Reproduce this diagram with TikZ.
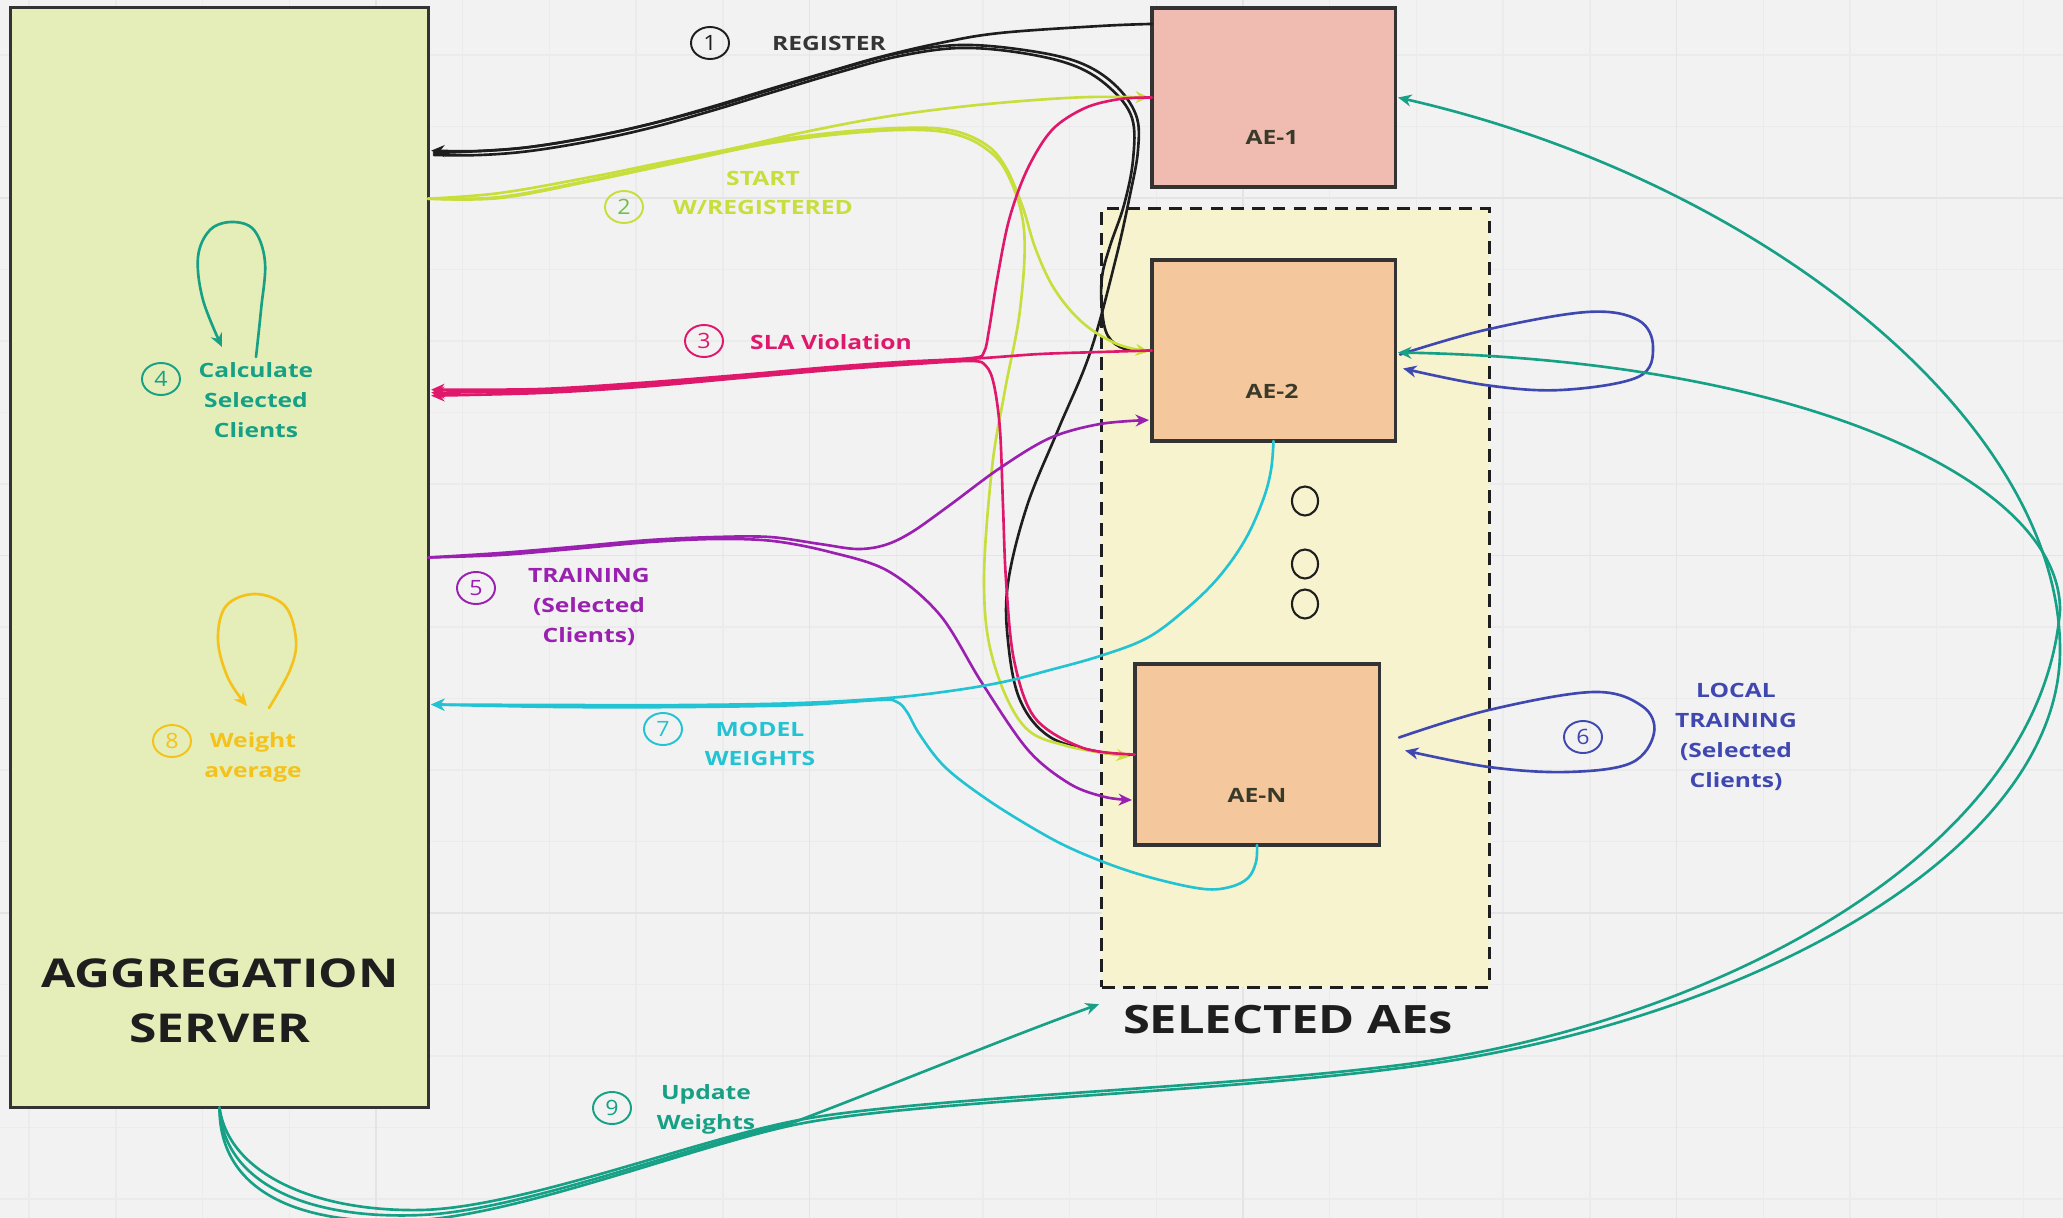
\documentclass[tikz,border=0pt]{standalone}
\usepackage{fontspec}
\setmainfont{Open Sans}[FakeStretch=1.25]
\newfontfamily\numfont{Open Sans}[FakeStretch=1.1]
\usetikzlibrary{arrows.meta,shapes.geometric,calc}

\definecolor{bg}{HTML}{F2F2F2}
\definecolor{gridminor}{HTML}{EBEBEB}
\definecolor{gridmajor}{HTML}{E4E4E4}
\definecolor{boxline}{HTML}{333333}
\definecolor{srvfill}{HTML}{E5EDB8}
\definecolor{ae1fill}{HTML}{F0BCB2}
\definecolor{aefill}{HTML}{F4C89C}
\definecolor{grpfill}{HTML}{F7F3CF}
\definecolor{inkblack}{HTML}{1E1E1E}
\definecolor{lime}{HTML}{C8DE3C}
\definecolor{limenum}{HTML}{6CC04A}
\definecolor{crimson}{HTML}{E0186C}
\definecolor{teal}{HTML}{16A085}
\definecolor{purple}{HTML}{9A20B0}
\definecolor{indigo}{HTML}{3F48B0}
\definecolor{cyanw}{HTML}{22C3D2}
\definecolor{amber}{HTML}{F4C21A}
\definecolor{aetext}{HTML}{3A3A2A}

\begin{document}
\begin{tikzpicture}[x=0.01cm,y=-0.01cm,
  box/.style={draw=boxline, line width=0.9pt, inner sep=0pt, outer sep=0pt},
  conn/.style={line width=0.75pt, line cap=round, line join=round},
  tip/.style={-{Stealth[length=3.8pt,width=3.4pt]}},
  numc/.style={ellipse, draw, line width=0.55pt, minimum width=0.38cm,
    minimum height=0.32cm, inner sep=0pt, font=\numfont\fontsize{6}{7}\selectfont},
  lbl/.style={font=\bfseries\fontsize{5.6}{8.5}\selectfont, align=center, inner sep=0pt},
  aelbl/.style={font=\bfseries\fontsize{5.6}{7}\selectfont, text=aetext, inner sep=0pt},
  dot/.style={ellipse, draw=inkblack, line width=0.6pt, minimum width=0.26cm,
    minimum height=0.29cm, inner sep=0pt}
]
% canvas and board grid
\useasboundingbox (0,0) rectangle (2063,1218);
\fill[bg] (0,0) rectangle (2063,1218);
\foreach \gx in {29.2,115.9,...,2063}
  \draw[gridminor, line width=0.4pt] (\gx,0) -- (\gx,1218);
\foreach \gy in {55,126.5,...,1218}
  \draw[gridminor, line width=0.4pt] (0,\gy) -- (2063,\gy);
\foreach \gx in {376,809.5,1243,1676.5}
  \draw[gridmajor, line width=0.5pt] (\gx,0) -- (\gx,1218);
\foreach \gy in {198,555.5,913}
  \draw[gridmajor, line width=0.5pt] (0,\gy) -- (2063,\gy);

% boxes
\node[box, fill=srvfill, minimum width=4.17cm, minimum height=10.99cm] (server) at (219.5,557.5) {};
\node[box, fill=grpfill, draw=inkblack, dashed, dash pattern=on 3.6pt off 2.3pt,
  minimum width=3.87cm, minimum height=7.78cm] (group) at (1295.5,598) {};
\node[box, fill=ae1fill, minimum width=2.43cm, minimum height=1.79cm] (ae1) at (1273.5,97.5) {};
\node[box, fill=aefill, minimum width=2.43cm, minimum height=1.81cm] (ae2) at (1273.5,350.5) {};
\node[box, fill=aefill, minimum width=2.44cm, minimum height=1.81cm] (aeN) at (1257,754.5) {};

\node[aelbl] (ae1lbl) at (1272,137) {AE-1};
\node[aelbl] (ae2lbl) at (1272,391) {AE-2};
\node[aelbl] (aeNlbl) at (1257,795) {AE-N};
\node[dot] (dotA) at (1305,501) {};
\node[dot] (dotB) at (1305,564) {};
\node[dot] (dotC) at (1305,604) {};

\node[font=\bfseries\fontsize{11.3}{15.6}\selectfont, align=center, text=inkblack, inner sep=0pt]
  (srvlbl) at (220,1001) {AGGREGATION\\SERVER};
\node[font=\bfseries\fontsize{11.1}{13}\selectfont, text=inkblack, inner sep=0pt]
  (grplbl) at (1288,1020) {SELECTED AEs};

% connector end points on the box borders
\coordinate (sReg)   at ($(server.north east)+(3,143)$);
\coordinate (sStart) at ($(server.north east)+(0,191)$);
\coordinate (sSLAa)  at ($(server.north east)+(3,382)$);
\coordinate (sSLAb)  at ($(server.north east)+(3,385)$);
\coordinate (sSLAc)  at ($(server.north east)+(3,388)$);
\coordinate (sTrain) at (server.east);
\coordinate (sModel) at ($(server.east)+(3,147)$);
\coordinate (sUpd)   at (server.south);
\coordinate (a1Reg)  at ($(ae1.north west)+(0,16)$);
\coordinate (a1In)   at ($(ae1.west)+(-3,0)$);
\coordinate (a1Back) at ($(ae1.east)+(3,0)$);
\coordinate (a2In)   at ($(ae2.west)+(-3,1)$);
\coordinate (a2Train) at ($(ae2.south west)+(-3,-21)$);
\coordinate (a2Back) at ($(ae2.east)+(3,2)$);
\coordinate (a2LoopS) at ($(ae2.east)+(5,4)$);
\coordinate (a2LoopE) at ($(ae2.east)+(8,18)$);
\coordinate (aNIn)   at ($(aeN.west)+(-5,2)$);
\coordinate (aNTrain) at ($(aeN.south west)+(-3,-45)$);
\coordinate (aNLoopS) at ($(aeN.east)+(20,-17)$);
\coordinate (aNLoopE) at ($(aeN.east)+(26,-4)$);
\coordinate (gIn)    at ($(group.south west)+(-3,17)$);
\coordinate (calcS) at (256,357);
\coordinate (calcE) at (222,347);
\coordinate (avgS) at (269,708);
\coordinate (avgE) at (247,706);

% (1) register
\draw[conn, inkblack] plot[smooth, tension=0.6] coordinates {(ae2.west) (1125,349) (1108,336) (1102,310)
  (1102,277) (1110,246) (1124,205) (1133,160) (1132,118) (1110,88) (1075,66) (1022,53) (960,48)
  (900,56) (840,72) (770,93) (711,111) (650,128) (591,141) (530,151) (480,155) (434,155)};
\draw[conn, inkblack] plot[smooth, tension=0.6] coordinates {(aeN.west) (1100,752) (1050,737) (1020,700)
  (1008,641) (1008,583) (1027,506) (1058,430) (1090,353) (1115,262) (1130,195) (1138,150)
  (1136,115) (1114,84) (1078,62) (1024,50) (960,45) (900,53) (840,69) (770,90) (711,108)
  (650,124) (591,137) (530,147) (480,151) (434,153)};
\draw[conn, inkblack, tip] plot[smooth, tension=0.6] coordinates {(a1Reg) (1100,26) (1000,33) (940,43)
  (880,57) (831,71) (770,89) (711,107) (650,124) (591,137) (530,147) (480,151) (sReg)};

% (2) start with registered
\draw[conn, lime, tip] plot[smooth, tension=0.6] coordinates {(sStart) (500,197) (591,180) (680,161)
  (760,143) (831,133) (900,128) (950,130) (985,144) (1005,166) (1022,205) (1036,250) (1055,290)
  (1083,323) (1117,344) (a2In)};
\draw[conn, lime, tip] plot[smooth, tension=0.6] coordinates {(sStart) (500,198) (591,181) (680,162)
  (760,145) (831,135) (900,130) (950,133) (985,148) (1008,175) (1024,230) (1020,310) (1005,390)
  (992,468) (984,583) (993,660) (1023,725) (1067,746) (aNIn)};
\draw[conn, lime, tip] plot[smooth, tension=0.6] coordinates {(sStart) (500,193) (591,177) (660,163)
  (735,148) (800,133) (878,118) (950,108) (1022,101) (1090,97) (a1In)};

% (3) SLA violation
\draw[conn, crimson, tip] plot[smooth, tension=0.55] coordinates {(ae1.west) (1120,99) (1085,108)
  (1052,130) (1027,170) (1009,220) (997,280) (989,330) (984,352) (972,358) (900,362) (831,367)
  (740,375) (639,383) (540,389) (sSLAa)};
\draw[conn, crimson, tip] plot[smooth, tension=0.55] coordinates {(ae2.west) (1100,352) (1040,354)
  (984,358) (900,363) (831,368) (740,376) (639,385) (540,391) (sSLAb)};
\draw[conn, crimson, tip] plot[smooth, tension=0.55] coordinates {(aeN.west) (1083,748) (1035,718)
  (1014,660) (1006,580) (1003,506) (1000,430) (994,385) (986,366) (970,361) (900,365) (831,370)
  (740,378) (639,387) (540,393) (sSLAc)};

% (4) calculate selected clients
\draw[conn, teal, tip] plot[smooth, tension=0.6] coordinates {(calcS) (261,310) (265,262)
  (254,230) (232,222) (210,230) (198,257) (203,300) (calcE)};

% (5) training
\draw[conn, purple, tip] plot[smooth, tension=0.55] coordinates {(sTrain) (500,553) (572,547)
  (650,540) (716,537) (770,537) (820,544) (857,549) (885,545) (912,532) (950,505) (1000,468)
  (1050,438) (1100,424) (a2Train)};
\draw[conn, purple, tip] plot[smooth, tension=0.55] coordinates {(sTrain) (500,555) (572,549)
  (650,542) (716,539) (773,541) (830,552) (888,571) (940,615) (982,683) (1028,750) (1070,784)
  (1105,797) (aNTrain)};

% (6) local training
\draw[conn, indigo, tip] plot[smooth, tension=0.6] coordinates {(a2LoopS) (1485,330) (1587,312)
  (1638,320) (1653,347) (1638,377) (1561,390) (1485,385) (a2LoopE)};
\draw[conn, indigo, tip] plot[smooth, tension=0.6] coordinates {(aNLoopS) (1489,710) (1593,692)
  (1642,706) (1654,733) (1631,763) (1567,772) (1489,767) (aNLoopE)};

% (7) model weights
\draw[conn, cyanw, tip] plot[smooth, tension=0.6] coordinates {(ae2.south) (1271,470) (1263,500)
  (1245,540) (1218,578) (1185,610) (1147,638) (1100,656) (1050,670) (1003,682) (950,691)
  (888,698) (800,703) (687,705) (560,705) (sModel)};
\draw[conn, cyanw, tip] plot[smooth, tension=0.6] coordinates {(aeN.south) (1256,862) (1248,878)
  (1230,887) (1204,889) (1160,880) (1117,867) (1070,848) (1031,827) (985,798) (945,767)
  (920,735) (907,712) (897,702) (880,700) (800,705) (687,707) (560,707) (sModel)};

% (8) weight average
\draw[conn, amber, tip] plot[smooth, tension=0.6] coordinates {(avgS) (290,670) (296,640)
  (285,606) (255,594) (226,606) (218,640) (228,678) (avgE)};

% (9) update weights
\draw[conn, teal, tip] (sUpd) .. controls (219,1192) and (300,1228) .. (421,1220)
  .. controls (522,1213) and (690,1148) .. (789,1126)
  .. controls (900,1101) and (1200,1094) .. (1400,1068)
  .. controls (1750,1024) and (2060,850) .. (2060,650)
  .. controls (2060,420) and (1760,180) .. (a1Back);
\draw[conn, teal, tip] (sUpd) .. controls (228,1172) and (312,1212) .. (421,1210)
  .. controls (518,1208) and (688,1143) .. (789,1122)
  .. controls (900,1098) and (1200,1090) .. (1400,1065)
  .. controls (1700,1027) and (2040,860) .. (2060,610)
  .. controls (2060,480) and (1800,360) .. (a2Back);
\draw[conn, teal, tip] (sUpd) .. controls (223,1182) and (305,1220) .. (421,1215)
  .. controls (520,1211) and (688,1146) .. (789,1124)
  .. controls (880,1090) and (1000,1040) .. (gIn);

% step numbers
\node[numc, draw=inkblack, text=inkblack] (n1) at (710,43) {1};
\node[numc, draw=lime, text=limenum] (n2) at (624,207) {2};
\node[numc, draw=crimson, text=crimson] (n3) at (704,341) {3};
\node[numc, draw=teal, text=teal] (n4) at (161,379) {4};
\node[numc, draw=purple, text=purple] (n5) at (476,588) {5};
\node[numc, draw=indigo, text=indigo] (n6) at (1583,737) {6};
\node[numc, draw=cyanw, text=cyanw] (n7) at (663,729) {7};
\node[numc, draw=amber, text=amber] (n8) at (172,741) {8};
\node[numc, draw=teal, text=teal] (n9) at (612,1108) {9};

% step captions
\node[lbl, text=inkblack!90] (t1) at (829,43) {REGISTER};
\node[lbl, text=lime] (t2) at (763,193) {START\\W/REGISTERED};
\node[lbl, text=crimson] (t3) at (831,342) {SLA Violation};
\node[lbl, text=teal] (t4) at (256,400) {Calculate\\Selected\\Clients};
\node[lbl, text=purple] (t5) at (589,607) {TRAINING\\(Selected\\Clients)};
\node[lbl, text=indigo] (t6) at (1736,737) {LOCAL\\TRAINING\\(Selected\\Clients)};
\node[lbl, text=cyanw] (t7) at (760,744) {MODEL\\WEIGHTS};
\node[lbl, text=amber] (t8) at (253,757) {Weight\\average};
\node[lbl, text=teal] (t9) at (706,1109) {Update\\Weights};
\end{tikzpicture}
\end{document}
